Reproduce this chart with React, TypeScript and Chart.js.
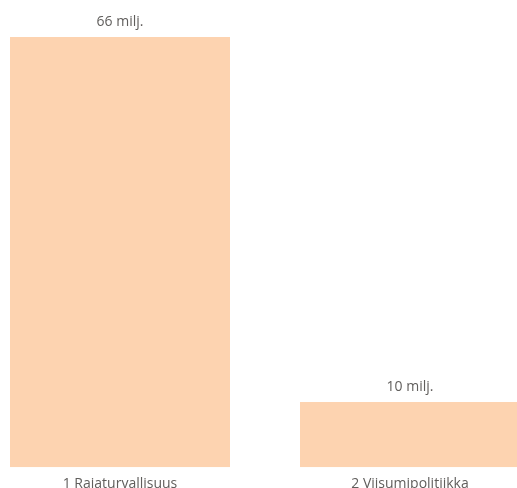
import React, { useEffect, useRef } from "react";
import { Chart, registerables } from "chart.js";

Chart.register(...registerables);

const categories = ["1 Rajaturvallisuus", "2 Viisumipolitiikka"];
const values = [66, 10];
const valueLabels = ["66 milj.", "10 milj."];

const FONT = "'Open Sans', 'Noto Sans', sans-serif";

const labelPlugin = {
  id: "valueLabels",
  afterDatasetsDraw(chart: any) {
    const ctx = chart.ctx;
    const meta = chart.getDatasetMeta(0);
    ctx.save();
    ctx.font = `14px ${FONT}`;
    ctx.fillStyle = "#605E5C";
    ctx.textAlign = "center";
    ctx.textBaseline = "bottom";
    meta.data.forEach((bar: any, i: number) => {
      ctx.fillText(valueLabels[i], bar.x, bar.y - 8);
    });
    ctx.restore();
  },
};

export default function App() {
  const ref = useRef<HTMLCanvasElement>(null);
  useEffect(() => {
    if (!ref.current) return;
    const chart = new Chart(ref.current, {
      type: "bar",
      data: {
        labels: categories,
        datasets: [
          {
            data: values,
            backgroundColor: "#FDD3B0",
            categoryPercentage: 1,
            barPercentage: 0.7586,
          },
        ],
      },
      options: {
        animation: false,
        responsive: false,
        maintainAspectRatio: false,
        layout: { padding: { top: 37, bottom: 18, left: 0, right: 0 } },
        plugins: { legend: { display: false }, tooltip: { enabled: false } },
        scales: {
          x: {
            grid: { display: false },
            border: { display: false },
            ticks: { color: "#605E5C", font: { family: FONT, size: 14 }, padding: 0, maxRotation: 0 },
          },
          y: { display: false, min: 0, max: 66 },
        },
      },
      plugins: [labelPlugin],
    });
    return () => chart.destroy();
  }, []);
  return (
    <div style={{ position: "fixed", left: 0, top: 0, width: 517, height: 488, overflow: "hidden", background: "#fff" }}>
      <canvas ref={ref} width={580} height={510} style={{ position: "absolute", left: -25, top: 0, width: 580, height: 510 }} />
    </div>
  );
}
